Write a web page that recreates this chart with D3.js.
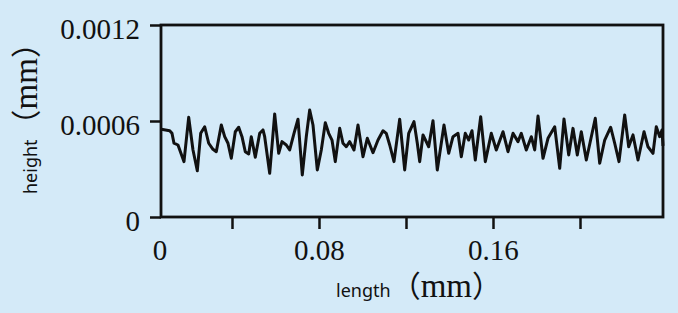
<!DOCTYPE html>
<html>
<head>
<meta charset="utf-8">
<script src="https://cdn.jsdelivr.net/npm/d3@7"></script>
<style>
  html, body { margin: 0; padding: 0; background: #d4eaf8; }
  svg { display: block; }
</style>
</head>
<body>
<div class="container"></div>
<script>
// profile data (mm)
const lengthMm = [
  0.00749, 0.01136, 0.01241, 0.01333, 0.01517, 0.01793, 0.02009, 0.02207, 0.02405, 0.02561,
  0.02745, 0.02929, 0.03126, 0.03278, 0.03508, 0.03664, 0.03816, 0.03968, 0.04152, 0.04308,
  0.04460, 0.04611, 0.04768, 0.04887, 0.05071, 0.05274, 0.05425, 0.05503, 0.05733, 0.05963,
  0.06147, 0.06299, 0.06497, 0.06653, 0.06851, 0.07034, 0.07232, 0.07416, 0.07572, 0.07724,
  0.07922, 0.08106, 0.08290, 0.08446, 0.08598, 0.08749, 0.08952, 0.09103, 0.09255, 0.09411,
  0.09609, 0.09793, 0.10023, 0.10221, 0.10483, 0.10713, 0.10943, 0.11094, 0.11251, 0.11448,
  0.11710, 0.11940, 0.12124, 0.12368, 0.12520, 0.12630, 0.12782, 0.13044, 0.13241, 0.13439,
  0.13747, 0.13963, 0.14161, 0.14391, 0.14543, 0.14726, 0.14883, 0.15034, 0.15186, 0.15434,
  0.15646, 0.15922, 0.16152, 0.16460, 0.16690, 0.16920, 0.17149, 0.17301, 0.17531, 0.17761,
  0.17917, 0.18069, 0.18299, 0.18529, 0.18837, 0.19067, 0.19264, 0.19480, 0.19678, 0.19876,
  0.20060, 0.20290, 0.20703, 0.20906, 0.21136, 0.21411, 0.21595, 0.21793, 0.22055, 0.22239,
  0.22437, 0.22667, 0.22943, 0.23126, 0.23356, 0.23508, 0.23664, 0.23770, 0.23816
];
const heightMm = [
  0.000548, 0.000539, 0.000523, 0.000461, 0.000450, 0.000346, 0.000623, 0.000419, 0.000289, 0.000523,
  0.000564, 0.000461, 0.000423, 0.000408, 0.000575, 0.000502, 0.000461, 0.000367, 0.000533, 0.000561,
  0.000502, 0.000408, 0.000394, 0.000502, 0.000373, 0.000523, 0.000544, 0.000502, 0.000273, 0.000644,
  0.000398, 0.000471, 0.000450, 0.000419, 0.000523, 0.000611, 0.000263, 0.000502, 0.000669, 0.000575,
  0.000294, 0.000419, 0.000589, 0.000523, 0.000481, 0.000346, 0.000554, 0.000461, 0.000439, 0.000471,
  0.000419, 0.000575, 0.000377, 0.000492, 0.000402, 0.000481, 0.000539, 0.000523, 0.000450, 0.000346,
  0.000611, 0.000294, 0.000523, 0.000596, 0.000461, 0.000346, 0.000513, 0.000439, 0.000602, 0.000294,
  0.000575, 0.000398, 0.000502, 0.000523, 0.000377, 0.000523, 0.000481, 0.000539, 0.000356, 0.000627,
  0.000346, 0.000523, 0.000419, 0.000533, 0.000408, 0.000523, 0.000471, 0.000523, 0.000419, 0.000502,
  0.000419, 0.000631, 0.000367, 0.000492, 0.000564, 0.000304, 0.000613, 0.000388, 0.000554, 0.000388,
  0.000533, 0.000356, 0.000617, 0.000336, 0.000481, 0.000561, 0.000461, 0.000346, 0.000638, 0.000439,
  0.000513, 0.000356, 0.000533, 0.000439, 0.000398, 0.000564, 0.000502, 0.000544, 0.000444
];

// axis ticks
const xDomain = [0.00736, 0.23816];
const xTicks = [0.04, 0.08, 0.12, 0.16, 0.20];
const xTickLabels = ["", "0.08", "", "0.16", ""];
const xOriginLabel = "0";
const yTicks = [0, 0.0006, 0.0012];
const yTickLabels = ["0", "0.0006", "0.0012"];

const data = lengthMm.map((v, i) => ({ x: v, y: heightMm[i] }));

// margins / size
const W = 678, H = 313;
const margin = { top: 25, right: 15, bottom: 96, left: 161 };
const width = W - margin.left - margin.right;
const height = H - margin.top - margin.bottom;

const svg = d3.select('.container').append('svg')
    .attr('width', W)
    .attr('height', H);

svg.append('rect')
    .attr('width', W).attr('height', H)
    .attr('fill', '#d4eaf8');

const g = svg.append('g')
    .attr('transform', `translate(${margin.left}, ${margin.top})`);

const xScale = d3.scaleLinear().domain(xDomain).range([0, width]);
const yScale = d3.scaleLinear().domain([0, 0.0012]).range([height, 0]);

const serif = '"Liberation Serif", "Times New Roman", serif';
const sans = '"Noto Sans", "Open Sans", sans-serif';
const cjk = '"Noto Sans CJK SC", serif';

// y axis
const yAxis = d3.axisLeft(yScale)
    .tickValues(yTicks)
    .tickSize(11)
    .tickPadding(10)
    .tickFormat((d, i) => yTickLabels[i]);

const gy = g.append('g').call(yAxis);
gy.select('.domain').remove();
gy.selectAll('line').attr('stroke', '#111').attr('stroke-width', 2.5);
gy.selectAll('text')
    .attr('fill', '#111')
    .attr('dy', '0.46em')
    .style('font-family', serif)
    .style('font-size', '29px');

// x axis
const xAxis = d3.axisBottom(xScale)
    .tickValues(xTicks)
    .tickSize(12)
    .tickPadding(10)
    .tickFormat((d, i) => xTickLabels[i]);

const gx = g.append('g')
    .attr('transform', `translate(0, ${height})`)
    .call(xAxis);
gx.select('.domain').remove();
gx.selectAll('line').attr('stroke', '#111').attr('stroke-width', 2.5);
gx.selectAll('text')
    .attr('fill', '#111')
    .style('font-family', serif)
    .style('font-size', '29px');

gx.append('text')
    .attr('x', xScale(xDomain[0]) - 1)
    .attr('y', 22)
    .attr('dy', '0.71em')
    .attr('text-anchor', 'middle')
    .attr('fill', '#111')
    .style('font-family', serif)
    .style('font-size', '29px')
    .text(xOriginLabel);

// frame
g.append('rect')
    .attr('x', 0).attr('y', 0)
    .attr('width', width).attr('height', height)
    .attr('fill', 'none')
    .attr('stroke', '#111')
    .attr('stroke-width', 2.8);

// profile line
const line = d3.line()
    .x(d => xScale(d.x))
    .y(d => yScale(d.y));

g.append('path')
    .datum(data)
    .attr('d', line)
    .attr('fill', 'none')
    .attr('stroke', '#111')
    .attr('stroke-width', 3)
    .attr('stroke-linejoin', 'round');

// axis titles
const addTitle = (sel, word) => {
    sel.append('tspan')
        .style('font-family', sans)
        .style('font-size', '18px')
        .text(word);
    sel.append('tspan')
        .style('font-family', cjk)
        .style('font-size', '30px')
        .text('（');
    sel.append('tspan')
        .style('font-family', serif)
        .style('font-size', '33px')
        .text('mm');
    sel.append('tspan')
        .style('font-family', cjk)
        .style('font-size', '30px')
        .text('）');
};

const xTitle = svg.append('text')
    .attr('x', 336)
    .attr('y', 297)
    .attr('fill', '#111');
addTitle(xTitle, 'length');

const yTitle = svg.append('text')
    .attr('transform', 'translate(37, 194) rotate(-90)')
    .attr('fill', '#111');
addTitle(yTitle, 'height');
</script>
</body>
</html>
